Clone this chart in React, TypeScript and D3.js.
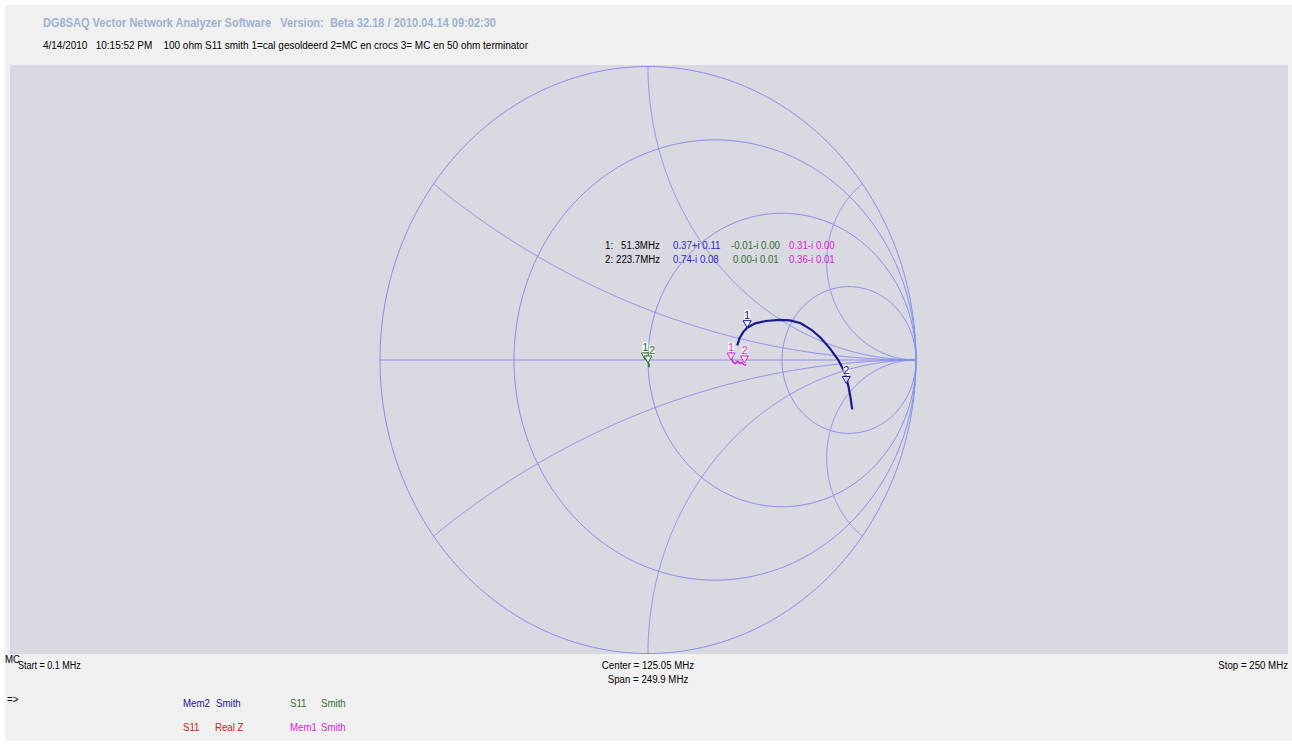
import React from "react";
import * as d3 from "d3";

const W = 1292;
const H = 745;

// Smith chart grid (normalized impedance)
const resistanceCircles = [0, 1 / 3, 1, 3];
const reactanceArcs = [1 / 3, 1, 3, -1 / 3, -1, -3];

// Mem2 Smith trace (reflection coefficient, re / im)
const mem2Re = [0.333, 0.342, 0.355, 0.37, 0.4, 0.44, 0.49, 0.53, 0.57, 0.61, 0.645, 0.68, 0.71, 0.73, 0.74, 0.748, 0.755, 0.762];
const mem2Im = [0.05, 0.075, 0.095, 0.11, 0.125, 0.133, 0.137, 0.135, 0.125, 0.103, 0.075, 0.038, 0.0, -0.035, -0.06, -0.09, -0.125, -0.168];

// S11 Smith trace
const s11Re = [0.0, -0.004, -0.008, -0.004, 0.0, 0.004, 0.003];
const s11Im = [0.025, 0.018, 0.008, 0.0, -0.008, -0.015, -0.025];

// Mem1 Smith trace
const mem1Re = [0.31, 0.312, 0.318, 0.326, 0.334, 0.342, 0.35, 0.358, 0.366];
const mem1Im = [0.03, 0.005, -0.008, -0.012, -0.004, -0.012, -0.008, -0.016, -0.018];

// Markers
const mem2MarkRe = [0.37, 0.74];
const mem2MarkIm = [0.11, -0.08];
const s11MarkRe = [-0.01, 0.0];
const s11MarkIm = [0.0, -0.01];
const mem1MarkRe = [0.31, 0.36];
const mem1MarkIm = [0.0, -0.01];
const markerNames = ["1", "2"];
const markerFreqs = ["51.3MHz", "223.7MHz"];
const mem2MarkText = ["0.37+i 0.11", "0.74-i 0.08"];
const s11MarkText = ["-0.01-i 0.00", "0.00-i 0.01"];
const mem1MarkText = ["0.31-i 0.00", "0.36-i 0.01"];

const GRID = "#8a8cec";
const NAVY = "#1a1a8c";
const BLUE = "#2c2cc8";
const GREEN = "#2f6f2f";
const MAGENTA = "#d624d6";
const RED = "#c82020";
const FONT = "'Liberation Sans', Arial, sans-serif";

const sx = d3.scaleLinear().domain([-1, 1]).range([380, 916]);
const sy = d3.scaleLinear().domain([-1, 1]).range([653.5, 66.5]);

const line = d3
  .line<[number, number]>()
  .x((d) => sx(d[0]))
  .y((d) => sy(d[1]));

function resistancePath(r: number) {
  const c = r / (1 + r);
  const rad = 1 / (1 + r);
  const pts: [number, number][] = d3.range(0, 361).map((a) => {
    const t = (a * Math.PI) / 180;
    return [c + rad * Math.cos(t), rad * Math.sin(t)];
  });
  return line(pts) as string;
}

function reactancePath(x: number) {
  const pts: [number, number][] = d3.range(0, 600).map((i) => {
    const t = i / 600;
    const r = t / (1 - t);
    const den = (r + 1) * (r + 1) + x * x;
    return [(r * r - 1 + x * x) / den, (2 * x) / den];
  });
  pts.push([1, 0]);
  return line(pts) as string;
}

const zip = (a: number[], b: number[]) => a.map((v, i) => [v, b[i]] as [number, number]);

type TP = {
  x: number;
  y: number;
  children: React.ReactNode;
  fill?: string;
  size?: number;
  anchor?: string;
  weight?: string;
  k?: number;
};
const T = ({ x, y, children, fill = "#000", size = 11, anchor = "start", weight = "normal", k = 0.88 }: TP) => (
  <text
    transform={`translate(${x},${y}) scale(${k},1)`}
    fontSize={size}
    fill={fill}
    textAnchor={anchor as any}
    fontWeight={weight}
    fontFamily={FONT}
    style={{ whiteSpace: "pre" }}
  >
    {children}
  </text>
);

function Markers({ re, im, color, labelDx = [0, 0] }: { re: number[]; im: number[]; color: string; labelDx?: number[] }) {
  return (
    <g>
      {re.map((v, i) => {
        const px = sx(v);
        const py = sy(im[i]);
        const lx = px + labelDx[i];
        return (
          <g key={i}>
            <path
              d={`M${px - 4},${py - 7}L${px + 4},${py - 7}L${px},${py}Z`}
              fill="#ffffff"
              fillOpacity={0.75}
              stroke={color}
              strokeWidth={1}
            />
            <rect x={lx - 3} y={py - 18} width={6} height={10} fill="#ffffff" fillOpacity={0.8} />
            <T x={lx} y={py - 9} fill={color} anchor="middle" size={11} k={1}>
              {markerNames[i]}
            </T>
          </g>
        );
      })}
    </g>
  );
}

export default function App() {
  return (
    <svg width={W} height={H} style={{ position: "absolute", left: 0, top: 0, display: "block" }}>
      <rect x={0} y={0} width={W} height={H} fill="#ffffff" />
      <rect x={5} y={5} width={W - 5} height={H - 9} fill="#f0f0f0" />
      <rect x={10} y={65} width={1278} height={589} fill="#d9d9e1" />

      {/* header */}
      <text
        x={43}
        y={27}
        fontSize={12.5}
        fontWeight="bold"
        fill="#9db3cf"
        fontFamily={FONT}
        textLength={453}
        lengthAdjust="spacingAndGlyphs"
        style={{ whiteSpace: "pre" }}
      >
        {"DG8SAQ Vector Network Analyzer Software   Version:  Beta 32.18 / 2010.04.14 09:02:30"}
      </text>
      <text
        x={43}
        y={49}
        fontSize={11}
        fill="#000"
        fontFamily={FONT}
        textLength={485}
        lengthAdjust="spacingAndGlyphs"
        style={{ whiteSpace: "pre" }}
      >
        {"4/14/2010   10:15:52 PM    100 ohm S11 smith 1=cal gesoldeerd 2=MC en crocs 3= MC en 50 ohm terminator"}
      </text>

      {/* grid */}
      <g fill="none" stroke={GRID} strokeWidth={1}>
        <line x1={sx(-1)} x2={sx(1)} y1={sy(0)} y2={sy(0)} />
        {resistanceCircles.map((r, i) => (
          <path key={"r" + i} d={resistancePath(r)} />
        ))}
        {reactanceArcs.map((x, i) => (
          <path key={"x" + i} d={reactancePath(x)} />
        ))}
      </g>

      {/* marker readout */}
      {markerNames.map((m, i) => (
        <g key={m}>
          <T x={605} y={249 + i * 14}>{m + ":"}</T>
          <T x={i === 0 ? 621 : 616} y={249 + i * 14}>{markerFreqs[i]}</T>
          <T x={673} y={249 + i * 14} fill={BLUE}>{mem2MarkText[i]}</T>
          <T x={i === 0 ? 731 : 733} y={249 + i * 14} fill={GREEN}>{s11MarkText[i]}</T>
          <T x={789} y={249 + i * 14} fill={MAGENTA}>{mem1MarkText[i]}</T>
        </g>
      ))}

      {/* traces */}
      <path d={line(zip(mem2Re, mem2Im)) as string} fill="none" stroke={NAVY} strokeWidth={2.2} />
      <path d={line(zip(s11Re, s11Im)) as string} fill="none" stroke={GREEN} strokeWidth={1.5} />
      <path d={line(zip(mem1Re, mem1Im)) as string} fill="none" stroke={MAGENTA} strokeWidth={1.5} />

      <Markers re={mem2MarkRe} im={mem2MarkIm} color={NAVY} />
      <Markers re={s11MarkRe} im={s11MarkIm} color={GREEN} labelDx={[0, 4]} />
      <Markers re={mem1MarkRe} im={mem1MarkIm} color={MAGENTA} />

      {/* footer */}
      <T x={18} y={669} k={0.82}>Start = 0.1 MHz</T>
      <T x={5} y={663}>MC</T>
      <T x={648} y={669} anchor="middle">Center = 125.05 MHz</T>
      <T x={648} y={683} anchor="middle">Span = 249.9 MHz</T>
      <T x={1288} y={669} anchor="end">Stop = 250 MHz</T>
      <T x={7} y={703}>{"=>"}</T>

      <T x={183} y={707} fill={NAVY}>Mem2</T>
      <T x={216} y={707} fill={NAVY}>Smith</T>
      <T x={290} y={707} fill={GREEN}>S11</T>
      <T x={321} y={707} fill={GREEN}>Smith</T>
      <T x={183} y={731} fill={RED}>S11</T>
      <T x={215} y={731} fill={RED}>Real Z</T>
      <T x={290} y={731} fill={MAGENTA}>Mem1</T>
      <T x={321} y={731} fill={MAGENTA}>Smith</T>
    </svg>
  );
}
